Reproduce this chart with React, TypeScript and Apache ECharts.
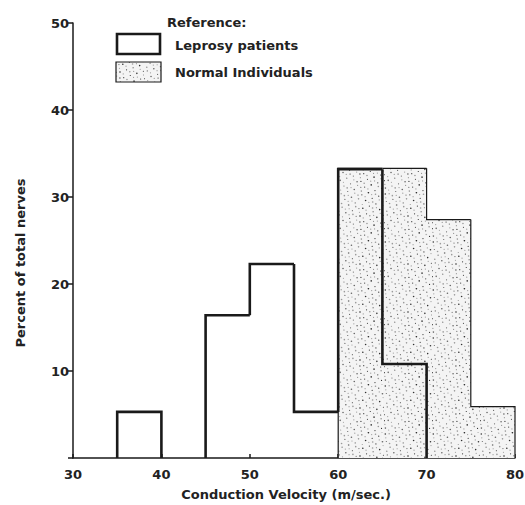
import React, { useEffect, useRef } from "react";
import * as echarts from "echarts";

// Histogram bins (m/sec), each 5 wide
const binStarts = [30, 35, 40, 45, 50, 55, 60, 65, 70, 75];
const binWidth = 5;
// Percent of total nerves
const leprosyPercent = [0, 5.3, 0, 16.4, 22.3, 5.3, 33.2, 10.8, 0, 0];
const normalPercent = [0, 0, 0, 0, 0, 0, 33.3, 33.3, 27.4, 5.9];

const seriesNames = ["Leprosy patients", "Normal Individuals"];
const legendTitle = "Reference:";
const xAxisName = "Conduction Velocity (m/sec.)";
const yAxisName = "Percent of total nerves";

const FONT = "DejaVu Sans";
const INK = "#1a1a1a";

function stippleUrl(): string {
  const W = 48;
  const H = 48;
  let dots = "";
  for (let k = 0; k < 110; k++) {
    const x = (((0.5 + k * 0.7548776662) % 1) * W).toFixed(2);
    const y = (((0.5 + k * 0.5698402910) % 1) * H).toFixed(2);
    const r = k % 3 === 0 ? 0.8 : 0.6;
    const c = k % 4 === 0 ? "#333" : k % 2 === 0 ? "#666" : "#999";
    dots += `<circle cx="${x}" cy="${y}" r="${r}" fill="${c}"/>`;
  }
  const svg = `<svg xmlns="http://www.w3.org/2000/svg" width="${W}" height="${H}"><rect width="${W}" height="${H}" fill="#f4f4f4"/>${dots}</svg>`;
  return "data:image/svg+xml;charset=utf-8," + encodeURIComponent(svg);
}

function makeRenderItem(values: number[], fill: any, lineWidth: number) {
  return (params: any, api: any) => {
    const i = params.dataIndex;
    const x0 = api.value(0);
    const h = api.value(1);
    const x1 = x0 + binWidth;
    const prev = i > 0 ? values[i - 1] : 0;
    const next = i < values.length - 1 ? values[i + 1] : 0;
    const children: any[] = [];
    if (h > 0) {
      if (fill) {
        const p0 = api.coord([x0, h]);
        const p1 = api.coord([x1, 0]);
        children.push({
          type: "rect",
          shape: { x: p0[0], y: p0[1], width: p1[0] - p0[0], height: p1[1] - p0[1] },
          style: { fill },
        });
      }
      const pts = [api.coord([x0, prev]), api.coord([x0, h]), api.coord([x1, h])];
      if (next === 0) pts.push(api.coord([x1, 0]));
      children.push({
        type: "polyline",
        shape: { points: pts },
        style: { fill: "none", stroke: INK, lineWidth, lineJoin: "miter" },
      });
    }
    return { type: "group", children };
  };
}

export default function App() {
  const ref = useRef<HTMLDivElement>(null);
  useEffect(() => {
    if (!ref.current) return;
    const chart = echarts.init(ref.current, null, { renderer: "svg" });
    const pattern = {
      image: stippleUrl(),
      repeat: "repeat",
      imageWidth: 48,
      imageHeight: 48,
    };
    const textStyle = { fontFamily: FONT, fontWeight: "bold", fontSize: 13, color: "#222" };
    const font = `bold 13px "${FONT}"`;
    chart.setOption({
      animation: false,
      backgroundColor: "#ffffff",
      grid: { left: 73, right: 10, top: 23, bottom: 47, outerBoundsMode: "none" },
      xAxis: {
        type: "value",
        min: 30,
        max: 80,
        interval: 10,
        name: xAxisName,
        nameLocation: "middle",
        nameGap: 30,
        nameTextStyle: { ...textStyle, padding: [0, 16, 0, 0] },
        axisLine: { show: true, onZero: false, lineStyle: { color: INK, width: 1.5 } },
        axisTick: { show: true, inside: true, length: 4, lineStyle: { color: INK, width: 1.5 } },
        axisLabel: { ...textStyle, margin: 10 },
        splitLine: { show: false },
      },
      yAxis: {
        type: "value",
        min: 0,
        max: 50,
        interval: 10,
        axisLine: { show: true, lineStyle: { color: INK, width: 1.5 } },
        axisTick: { show: true, inside: false, length: 5, lineStyle: { color: INK, width: 1.5 } },
        axisLabel: {
          ...textStyle,
          margin: 4,
          formatter: (v: number) => (v === 0 ? "" : String(v)),
        },
        splitLine: { show: false },
      },
      series: [
        {
          name: seriesNames[1],
          type: "custom",
          renderItem: makeRenderItem(normalPercent, pattern, 1.2),
          encode: { x: 0, y: 1 },
          data: binStarts.map((x, i) => [x, normalPercent[i]]),
          z: 2,
        },
        {
          name: seriesNames[0],
          type: "custom",
          renderItem: makeRenderItem(leprosyPercent, null, 2.6),
          encode: { x: 0, y: 1 },
          data: binStarts.map((x, i) => [x, leprosyPercent[i]]),
          z: 3,
        },
      ],
      graphic: [
        {
          type: "text",
          x: 167,
          y: 22,
          style: { text: legendTitle, font, fill: "#222", verticalAlign: "middle" },
        },
        {
          type: "rect",
          shape: { x: 117, y: 34, width: 43, height: 20 },
          style: { fill: "#fff", stroke: INK, lineWidth: 2.6 },
        },
        {
          type: "text",
          x: 175,
          y: 45,
          style: { text: seriesNames[0], font, fill: "#222", verticalAlign: "middle" },
        },
        {
          type: "rect",
          shape: { x: 116, y: 62, width: 45, height: 20 },
          style: { fill: pattern, stroke: INK, lineWidth: 1.2 },
        },
        {
          type: "text",
          x: 175,
          y: 72,
          style: { text: seriesNames[1], font, fill: "#222", verticalAlign: "middle" },
        },
        {
          type: "text",
          x: 20,
          y: 263,
          rotation: Math.PI / 2,
          style: {
            text: yAxisName,
            font,
            fill: "#222",
            align: "center",
            verticalAlign: "middle",
          },
        },
      ],
    });
    return () => chart.dispose();
  }, []);
  return (
    <div
      ref={ref}
      style={{ position: "fixed", left: 0, top: 0, width: 525, height: 505, background: "#fff" }}
    />
  );
}
